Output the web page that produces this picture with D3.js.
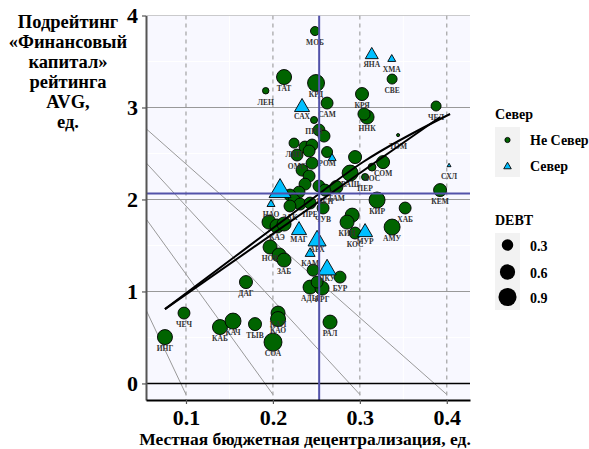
<!DOCTYPE html>
<html><head><meta charset="utf-8">
<script src="https://cdn.jsdelivr.net/npm/d3@7"></script>
<style>
body{margin:0;background:#fff}
svg{display:block}
text{font-family:"Liberation Serif","Times New Roman",serif;font-weight:bold}
</style>
</head><body>
<svg id="c" width="589" height="449"></svg>
<script>
// ---------- data ----------
const labels = ["МОБ","ЛЕН","ТАТ","КРД","СВЕ","КРЯ","ННК","","ЧЕЛ","САМ","ПРМ","","","ЛИП","","","ОМС","","РОМ","","","","","","ПЕН","","","","","ЗАК","ПРЕ","ЧУВ","ТАМ","","ВАШ","ПЕР","ВОС","СОМ","ТОМ","КЕМ","КИР","ХАБ","АМУ","","КИН","КОС","","КАЭ","","НОВ","","ЗАБ","","БУР","АДЫ","КРГ","","РАЛ","ДАГ","ЧЕЧ","ИНГ","КАБ","КАЧ","ТЫВ","КАЛ","КАО","СОА",
  "ЯНА","ХМА","САХ","","","НАО","МАГ","АРХ","КАМ","ЯКУ","МУР","СХЛ"];
const decentral = [0.2484,0.1917,0.2128,0.2496,0.3371,0.3025,0.3083,0.3048,0.3877,0.2623,0.2473,0.2530,0.2588,0.2243,0.2369,0.2450,0.2277,0.2416,0.2623,0.2450,0.2335,0.2416,0.2369,0.2530,0.2600,0.2300,0.2196,0.2243,0.2312,0.2196,0.2428,0.2577,0.2730,0.2945,0.2888,0.3060,0.3140,0.3267,0.3440,0.3923,0.3198,0.3521,0.3371,0.2912,0.2853,0.2945,0.1955,0.2047,0.2128,0.1967,0.2071,0.2128,0.2462,0.2772,0.2427,0.2565,0.2508,0.2657,0.1690,0.0977,0.0758,0.1391,0.1541,0.1794,0.2059,0.2059,0.2001,
  0.3137,0.3367,0.2335,0.2681,0.2082,0.1978,0.2300,0.2508,0.2428,0.2623,0.3060,0.4026];
const rating = [3.831,3.182,3.331,3.266,3.309,3.146,2.896,2.929,3.016,3.048,2.864,2.755,2.689,2.613,2.570,2.592,2.483,2.527,2.516,2.395,2.319,2.255,2.167,2.146,2.102,2.080,2.048,1.994,1.950,1.929,1.961,1.907,2.135,2.461,2.287,2.244,2.352,2.406,2.700,2.102,1.994,1.907,1.700,1.830,1.754,1.635,1.754,1.711,1.733,1.483,1.396,1.341,1.232,1.156,1.047,1.036,1.102,0.667,1.102,0.765,0.504,0.613,0.678,0.645,0.765,0.700,0.449,
  3.592,3.538,3.027,2.461,2.124,1.961,1.689,1.580,1.428,1.265,1.667,2.375];
const debt = [0.16,0.06,0.58,0.77,0.21,0.41,0.49,0.35,0.21,0.33,0.08,0.33,0.33,0.21,0.33,0.33,0.33,0.33,0.27,0.33,0.33,0.33,0.33,0.33,0.33,0.33,0.33,0.33,0.33,0.33,0.33,0.33,0.41,0.41,0.67,0.08,0.11,0.41,0.002,0.41,0.67,0.33,0.67,0.49,0.49,0.33,0.49,0.49,0.49,0.49,0.49,0.49,0.33,0.33,0.49,0.49,0.33,0.49,0.41,0.33,0.58,0.58,0.67,0.41,0.49,0.58,0.88,
  0.19,0.045,0.28,0.045,0.70,0.045,0.28,0.44,0.09,0.44,0.28,0.001];
const north = labels.map((d,i)=> i>=67);   // last 12 regions are "Север"

const xTicks = [0.1,0.2,0.3,0.4];
const yTicks = [0,1,2,3,4];
const isoLines = [ // [x1,y1,x2,y2]
  [0.054,2.77,0.4,-0.12],[0.054,2.40,0.3,-0.12],[0.054,1.79,0.2,-0.12],[0.054,0.80,0.1,-0.12]];
const fitLinear = [[0.0758,0.808],[0.3924,2.896]];
const fitSmooth = [[0.0758,0.808],[0.1541,1.363],[0.2312,1.907],[0.3037,2.407],[0.4038,2.929]];
const meanX = 0.2532, meanY = 2.065;
const debtLegend = [0.3,0.6,0.9];
const northLegend = ["Не Север","Север"];
const yTitle = ["Подрейтинг","«Финансовый","капитал»","рейтинга","AVG,","ед."];
const xTitle = "Местная бюджетная децентрализация, ед.";

// ---------- layout ----------
const L=146,R=470,T=15.5,B=400;
const svg = d3.select("#c");
const x = d3.scaleLinear().domain([0.054,0.4267]).range([L,R]);
const y = d3.scaleLinear().domain([-0.18,4.0]).range([B,T]);
const r = d3.scaleSqrt().domain([0,1]).range([1.2,9.5]);
const GREEN="#006400", BLUE="#00BFFF", MEAN="#5252AA";

svg.append("rect").attr("x",L).attr("y",T).attr("width",R-L).attr("height",B-T).attr("fill","#F8F8FF");
svg.append("defs").append("clipPath").attr("id","clip").append("rect").attr("x",L).attr("y",T).attr("width",R-L).attr("height",B-T);
const g = svg.append("g").attr("clip-path","url(#clip)");

// minor grid
[0.5,1.5,2.5,3.5].forEach(v=>g.append("line").attr("x1",L).attr("x2",R).attr("y1",y(v)).attr("y2",y(v)).attr("stroke","#fff").attr("stroke-width",1));
[0.15,0.25,0.35].forEach(v=>g.append("line").attr("x1",x(v)).attr("x2",x(v)).attr("y1",T).attr("y2",B).attr("stroke","#fff").attr("stroke-width",1));
// major grid
[1,2,3,4].forEach(v=>g.append("line").attr("x1",L).attr("x2",R).attr("y1",y(v)).attr("y2",y(v)).attr("stroke","#999").attr("stroke-width",1.1));
xTicks.forEach(v=>g.append("line").attr("x1",x(v)).attr("x2",x(v)).attr("y1",T).attr("y2",B).attr("stroke","#999").attr("stroke-width",1.1).attr("stroke-dasharray","4,4"));

// iso lines
g.selectAll(".iso").data(isoLines).enter().append("line")
  .attr("x1",d=>x(d[0])).attr("y1",d=>y(d[1])).attr("x2",d=>x(d[2])).attr("y2",d=>y(d[3]))
  .attr("stroke","#999").attr("stroke-width",1);
// zero line
g.append("line").attr("x1",L).attr("x2",R).attr("y1",y(0)).attr("y2",y(0)).attr("stroke","#000").attr("stroke-width",1.5);

// points
const idx = d3.range(labels.length);
function tri(cx,cy,rad){const w=2.694*rad,h=2.333*rad;return `M${cx},${cy-h/2}L${cx+w/2},${cy+h/2}L${cx-w/2},${cy+h/2}Z`;}
idx.forEach(i=>{
  const cx=x(decentral[i]), cy=y(rating[i]), rad=r(debt[i]);
  if(north[i]) g.append("path").attr("d",tri(cx,cy,rad)).attr("fill",BLUE).attr("stroke","#000").attr("stroke-width",0.9);
  else g.append("circle").attr("cx",cx).attr("cy",cy).attr("r",rad).attr("fill",GREEN).attr("stroke","#000").attr("stroke-width",0.9);
});
idx.forEach(i=>{
  if(!labels[i]) return;
  g.append("text").attr("x",x(decentral[i])).attr("y",y(rating[i])+14).attr("text-anchor","middle")
   .attr("font-size",7.5).attr("fill","#333").text(labels[i]);
});

// fits
const line = d3.line().x(d=>x(d[0])).y(d=>y(d[1]));
g.append("path").attr("d",line(fitLinear)).attr("fill","none").attr("stroke","#000").attr("stroke-width",2);
g.append("path").attr("d",d3.line().x(d=>x(d[0])).y(d=>y(d[1])).curve(d3.curveMonotoneX)(fitSmooth)).attr("fill","none").attr("stroke","#000").attr("stroke-width",2);

// mean lines
g.append("line").attr("x1",x(meanX)).attr("x2",x(meanX)).attr("y1",T).attr("y2",B).attr("stroke",MEAN).attr("stroke-width",2);
g.append("line").attr("x1",L).attr("x2",R).attr("y1",y(meanY)).attr("y2",y(meanY)).attr("stroke",MEAN).attr("stroke-width",2);

// axes
const ax = svg.append("g").attr("transform",`translate(${L},0)`)
  .call(d3.axisLeft(y).tickValues(yTicks).tickFormat(d3.format("d")).tickSize(4).tickSizeOuter(0).tickPadding(4));
ax.select(".domain").attr("stroke","#555").attr("stroke-width",2);
ax.selectAll(".tick line").attr("stroke","#555").attr("stroke-width",1.2);
ax.selectAll(".tick text").attr("font-size",22).attr("font-family","Liberation Serif").attr("font-weight","bold").attr("fill","#000");
const bx = svg.append("g").attr("transform",`translate(0,${B})`)
  .call(d3.axisBottom(x).tickValues(xTicks).tickFormat(d3.format(".1f")).tickSize(4).tickSizeOuter(0).tickPadding(5));
bx.select(".domain").attr("stroke","#000").attr("stroke-width",2);
bx.selectAll(".tick line").attr("stroke","#555").attr("stroke-width",1.2);
bx.selectAll(".tick text").attr("font-size",22).attr("font-family","Liberation Serif").attr("font-weight","bold").attr("fill","#000");

// titles
svg.append("text").attr("x",305).attr("y",445).attr("text-anchor","middle").attr("font-size",17.5).text(xTitle);
yTitle.forEach((t,i)=>svg.append("text").attr("x",68).attr("y",28+i*20).attr("text-anchor","middle").attr("font-size",18.5).text(t));

// legend: Север
svg.append("text").attr("x",495).attr("y",119).attr("font-size",14).text("Север");
svg.append("rect").attr("x",495).attr("y",127).attr("width",25).attr("height",50).attr("fill","#F2F2F2");
svg.append("circle").attr("cx",507.5).attr("cy",140).attr("r",2.6).attr("fill",GREEN).attr("stroke","#000").attr("stroke-width",0.9);
svg.append("path").attr("d",tri(507.5,165.5,2.8)).attr("fill",BLUE).attr("stroke","#000").attr("stroke-width",0.9);
northLegend.forEach((t,i)=>svg.append("text").attr("x",530).attr("y",145+i*26).attr("font-size",14).text(t));

// legend: DEBT
svg.append("text").attr("x",495).attr("y",225).attr("font-size",14).text("DEBT");
svg.append("rect").attr("x",495).attr("y",233).attr("width",25).attr("height",77).attr("fill","#F2F2F2");
const ky=[245,272,297];
debtLegend.forEach((v,i)=>{
  svg.append("circle").attr("cx",507.5).attr("cy",ky[i]).attr("r",r(v)).attr("fill","#000");
  svg.append("text").attr("x",530).attr("y",ky[i]+6).attr("font-size",14).text(v.toFixed(1));
});
</script>
</body></html>
